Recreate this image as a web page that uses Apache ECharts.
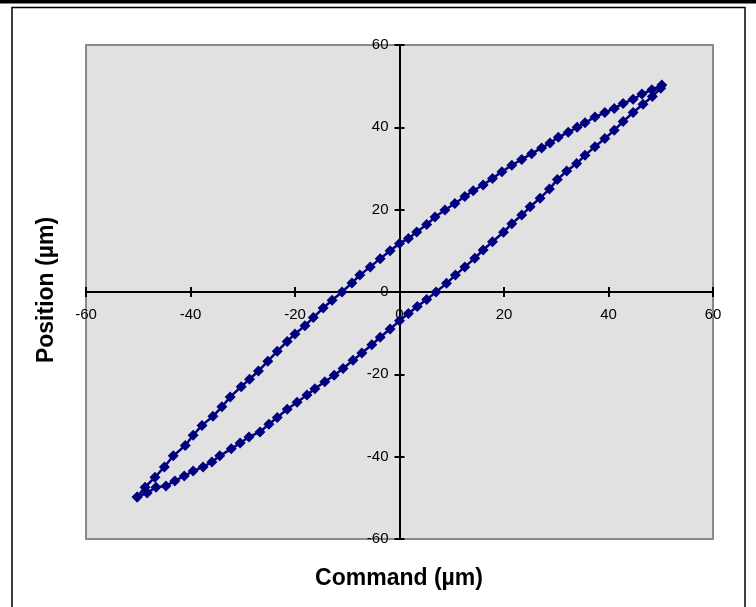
<!DOCTYPE html>
<html><head><meta charset="utf-8">
<script src="https://cdn.jsdelivr.net/npm/echarts@6/dist/echarts.min.js"></script>
<style>html,body{margin:0;padding:0;background:#fff}#c{width:756px;height:607px}</style>
</head><body><div id="c"></div>
<script>
// Upper (descending) branch of the hysteresis loop
const upperCommand = [50.2, 48.3, 46.4, 44.7, 42.8, 41.1, 39.3, 37.4, 35.5, 34.0, 32.3, 30.4, 28.8, 27.2, 25.3, 23.4, 21.5, 19.6, 17.8, 16.0, 14.1, 12.5, 10.6, 8.7, 6.8, 5.2, 3.3, 1.7, 0.0, -1.8, -3.7, -5.6, -7.6, -9.1, -11.0, -12.9, -14.6, -16.5, -18.1, -20.0, -21.5, -23.4, -25.2, -27.0, -28.7, -30.3, -32.4, -34.0, -35.7, -37.8, -39.5, -41.0, -43.3, -45.0, -46.8, -48.7, -50.2];
const upperPosition = [50.3, 49.1, 48.1, 46.8, 45.8, 44.6, 43.6, 42.5, 41.1, 40.0, 38.8, 37.6, 36.2, 35.0, 33.6, 32.2, 30.8, 29.2, 27.6, 26.0, 24.6, 23.2, 21.5, 19.9, 18.2, 16.4, 14.6, 13.0, 11.8, 10.0, 8.1, 6.1, 4.1, 2.2, 0.0, -2.0, -3.9, -6.2, -8.2, -10.2, -12.0, -14.4, -16.8, -19.2, -21.2, -23.0, -25.5, -27.9, -30.2, -32.4, -34.8, -37.3, -39.8, -42.5, -45.0, -47.4, -49.8];
// Lower (ascending) branch
const lowerCommand = [-50.2, -48.3, -46.6, -44.7, -43.0, -41.2, -39.5, -37.6, -35.9, -34.4, -32.2, -30.5, -28.8, -26.7, -25.0, -23.4, -21.5, -19.6, -17.7, -16.2, -14.3, -12.5, -10.8, -8.9, -7.2, -5.3, -3.7, -1.8, 0.0, 1.7, 3.4, 5.2, 7.0, 9.0, 10.7, 12.5, 14.4, 16.0, 17.8, 19.9, 21.5, 23.4, 25.0, 26.9, 28.7, 30.2, 32.0, 33.9, 35.5, 37.4, 39.3, 41.1, 42.8, 44.7, 46.6, 48.4, 50.0];
const lowerPosition = [-49.8, -48.8, -47.4, -47.1, -45.9, -44.7, -43.5, -42.5, -41.3, -39.8, -38.1, -36.7, -35.2, -34.0, -32.1, -30.5, -28.5, -26.8, -25.0, -23.5, -21.8, -20.2, -18.6, -16.6, -14.8, -12.8, -11.0, -9.0, -7.0, -5.2, -3.5, -1.8, 0.0, 2.1, 4.1, 6.1, 8.2, 10.2, 12.2, 14.5, 16.6, 18.7, 20.7, 22.8, 25.0, 27.3, 29.4, 31.2, 33.2, 35.3, 37.3, 39.3, 41.4, 43.6, 45.6, 47.5, 49.5];

const xTicks = [-60, -40, -20, 0, 20, 40, 60];
const yTicks = [-60, -40, -20, 0, 20, 40, 60];
const xTitle = 'Command (µm)';
const yTitle = 'Position (µm)';

const FONT = "'Liberation Sans', Arial, sans-serif";
const NAVY = '#000080';

// grid geometry (pixels)
const G = { left: 86, right: 43, top: 45, bottom: 68 };
const W = 756, H = 607;
const gw = W - G.left - G.right, gh = H - G.top - G.bottom;

function zip(a, b) { return a.map((v, i) => [v, b[i]]); }

// axes crossing at the origin: shift via offset to the middle of the grid
function makeAxis(ticks, outer, isY) {
  const lo = ticks[0], hi = ticks[ticks.length - 1];
  const frac = (0 - lo) / (hi - lo);
  const off = isY ? -(gw * frac) : -(gh * frac);
  return {
    type: 'value',
    min: lo, max: hi, interval: ticks[1] - ticks[0],
    position: isY ? 'left' : 'bottom',
    offset: off,
    axisLine: { show: true, onZero: false, lineStyle: { color: '#000', width: 2 } },
    axisTick: { show: true, inside: !outer, length: 5, lineStyle: { color: '#000', width: 2 } },
    axisLabel: outer ? { show: true, color: '#000', fontFamily: FONT, fontSize: 15, margin: isY ? 11 : 15, showMinLabel: true, showMaxLabel: true } : { show: false },
    splitLine: { show: false }
  };
}

const chart = echarts.init(document.getElementById('c'), null, { renderer: 'canvas' });
chart.setOption({
  animation: false,
  backgroundColor: '#fff',
  grid: {
    left: G.left, right: G.right, top: G.top, bottom: G.bottom,
    show: true, backgroundColor: '#e1e1e1', borderColor: '#8a8a8a', borderWidth: 2
  },
  xAxis: [makeAxis(xTicks, true, false), makeAxis(xTicks, false, false)],
  yAxis: [makeAxis(yTicks, true, true), makeAxis(yTicks, false, true)],
  graphic: [
    { type: 'rect', shape: { x: 0, y: 0, width: 756, height: 3.5 }, style: { fill: '#000' }, silent: true },
    { type: 'rect', shape: { x: 12, y: 7.5, width: 733, height: 700 }, style: { fill: null, stroke: '#000', lineWidth: 1.5 }, silent: true },
    { type: 'text', x: 399, y: 579, style: { text: xTitle, font: "bold 23px " + FONT, fill: '#000', align: 'center', verticalAlign: 'middle' }, silent: true },
    { type: 'text', x: 47, y: 290, rotation: Math.PI / 2, style: { text: yTitle, font: "bold 23px " + FONT, fill: '#000', align: 'center', verticalAlign: 'middle' }, silent: true }
  ],
  series: [
    {
      type: 'line', xAxisIndex: 0, yAxisIndex: 0,
      data: zip(upperCommand, upperPosition),
      symbol: 'diamond', symbolSize: 11, showAllSymbol: true,
      lineStyle: { color: NAVY, width: 2.5 }, itemStyle: { color: NAVY }
    },
    {
      type: 'line', xAxisIndex: 0, yAxisIndex: 0,
      data: zip(lowerCommand, lowerPosition),
      symbol: 'diamond', symbolSize: 11, showAllSymbol: true,
      lineStyle: { color: NAVY, width: 2.5 }, itemStyle: { color: NAVY }
    }
  ]
});
</script>
</body></html>
